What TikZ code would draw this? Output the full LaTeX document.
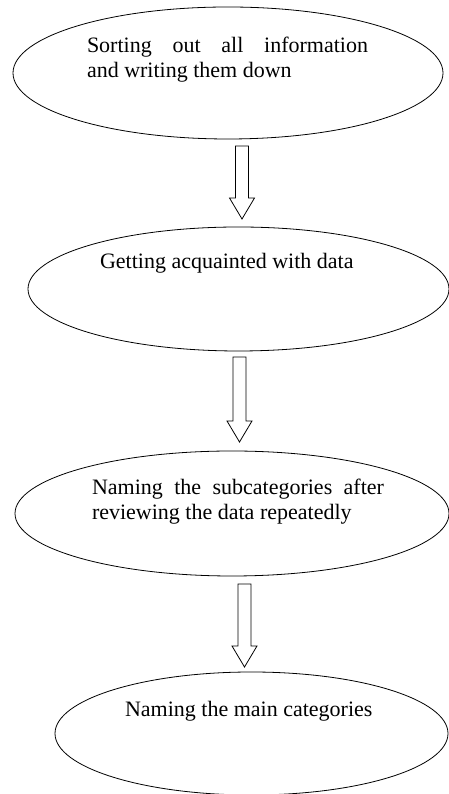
\documentclass[tikz,border=0pt]{standalone}
\usepackage{fontspec}
\setmainfont{Liberation Serif}
\usetikzlibrary{shapes.geometric,calc}
\tikzset{
	stage/.style={ellipse,draw,line width=0.8pt,inner sep=0pt,outer sep=0pt},
	txt/.style={inner sep=0pt,outer sep=0pt,anchor=base west},
	fat/.style={draw,line width=0.8pt,line join=miter}
}
\newcommand{\fatarrow}[2]{%
	\draw[fat] ($(#1)+(-6.5,0)$) -- ($(#2)+(-6.5,21)$) -- ($(#2)+(-12.5,21)$) -- (#2)
		-- ($(#2)+(12.5,21)$) -- ($(#2)+(6.5,21)$) -- ($(#1)+(6.5,0)$) -- cycle;}
\begin{document}
\begin{tikzpicture}[x=1pt,y=1pt]\fontsize{22}{25}\selectfont
	\useasboundingbox (0,0) rectangle (449,794);
	\node[stage,minimum width=430pt,minimum height=132pt] (S) at (228,721)   {};
	\node[stage,minimum width=421pt,minimum height=124pt] (G) at (238.5,505) {};
	\node[stage,minimum width=434pt,minimum height=125pt] (N) at (232,280.5) {};
	\node[stage,minimum width=393pt,minimum height=123pt] (M) at (251.5,60.5) {};
	\node[txt,text width=281pt,align=justify] (tS) at (87,741.7)
		{Sorting out all information\linebreak and writing them down};
	\node[txt] (tG) at (100,525) {Getting acquainted with data};
	\node[txt,text width=292pt,align=justify] (tN) at (92,299)
		{Naming the subcategories after\linebreak reviewing the data repeatedly};
	\node[txt] (tM) at (125,77) {Naming the main categories};
	\coordinate (a1) at ($(S.south)+(14,-7)$);
	\coordinate (b1) at ($(a1 |- G.north)+(0,8)$);
	\coordinate (a2) at ($(G.south)+(1,-6)$);
	\coordinate (b2) at ($(a2 |- N.north)+(0,9)$);
	\coordinate (a3) at ($(N.south)+(12.5,-8)$);
	\coordinate (b3) at ($(a3 |- M.north)+(0,5)$);
	\fatarrow{a1}{b1}
	\fatarrow{a2}{b2}
	\fatarrow{a3}{b3}
\end{tikzpicture}
\end{document}
